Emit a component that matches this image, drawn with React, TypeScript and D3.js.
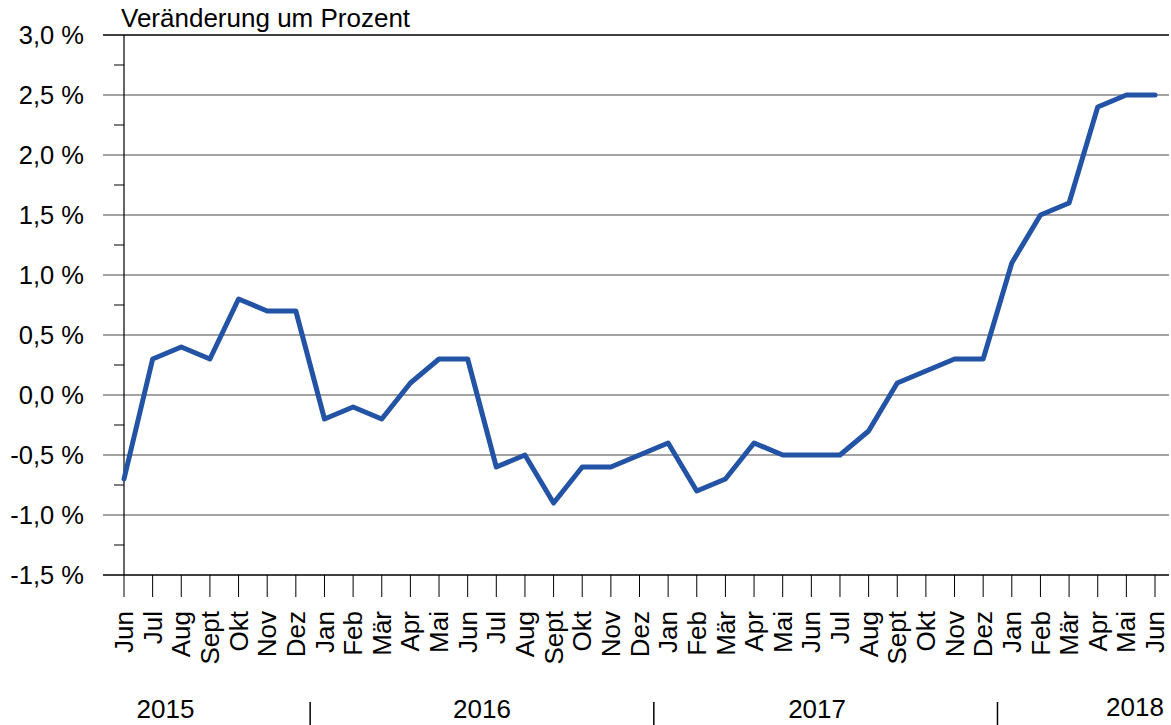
import * as d3 from 'd3';

const months = [
  'Jun', 'Jul', 'Aug', 'Sept', 'Okt', 'Nov', 'Dez',
  'Jan', 'Feb', 'Mär', 'Apr', 'Mai', 'Jun', 'Jul', 'Aug', 'Sept', 'Okt', 'Nov', 'Dez',
  'Jan', 'Feb', 'Mär', 'Apr', 'Mai', 'Jun', 'Jul', 'Aug', 'Sept', 'Okt', 'Nov', 'Dez',
  'Jan', 'Feb', 'Mär', 'Apr', 'Mai', 'Jun',
];

const values = [
  -0.7, 0.3, 0.4, 0.3, 0.8, 0.7, 0.7,
  -0.2, -0.1, -0.2, 0.1, 0.3, 0.3, -0.6, -0.5, -0.9, -0.6, -0.6, -0.5,
  -0.4, -0.8, -0.7, -0.4, -0.5, -0.5, -0.5, -0.3, 0.1, 0.2, 0.3, 0.3,
  1.1, 1.5, 1.6, 2.4, 2.5, 2.5,
];

const yMajor = [-1.5, -1.0, -0.5, 0, 0.5, 1.0, 1.5, 2.0, 2.5, 3.0];
const yMinor = [-1.25, -0.75, -0.25, 0.25, 0.75, 1.25, 1.75, 2.25, 2.75];

// year label, placed at a fractional month index
const years = ['2015', '2016', '2017', '2018'];
const yearAt = [1.45, 12.5, 24.2, 35.3];
// separators sit between Dez and Jan
const yearBreaks = [6.5, 18.5, 30.5];

const W = 1171;
const H = 725;
const left = 124;
const right = 1155;
const top = 35;
const bottom = 575;
const font = 'Liberation Sans, Arial, sans-serif';

export default function App() {
  const x = d3.scaleLinear().domain([0, months.length - 1]).range([left, right]);
  const y = d3.scaleLinear().domain([-1.5, 3.0]).range([bottom, top]);

  const line = d3.line<number>()
    .x((_, i) => x(i))
    .y(d => y(d));

  const fmt = (v: number) => d3.format('.1f')(v).replace('.', ',').replace('−', '-') + ' %';

  return (
    <svg width={W} height={H} style={{ position: 'absolute', left: 0, top: 0, background: '#fff' }}
      fontFamily={font}>
      {/* gridlines */}
      {yMajor.map(v => (
        <line key={'g' + v} x1={103} x2={1169} y1={y(v)} y2={y(v)}
          stroke={v === 3.0 || v === -1.5 ? '#000' : '#858585'} strokeWidth={1.5} />
      ))}
      {/* minor ticks */}
      {yMinor.map(v => (
        <line key={'m' + v} x1={114} x2={left} y1={y(v)} y2={y(v)} stroke="#000" strokeWidth={1} />
      ))}
      {/* y axis */}
      <line x1={left} x2={left} y1={top} y2={bottom} stroke="#000" strokeWidth={1.2} />
      {yMajor.map(v => (
        <text key={'l' + v} x={84} y={y(v)} dy="0.35em" textAnchor="end" fontSize={25.5} fill="#000">
          {fmt(v)}
        </text>
      ))}
      <text x={121} y={27} fontSize={26} fill="#000">Veränderung um Prozent</text>

      {/* x ticks & labels */}
      {months.map((m, i) => (
        <g key={'x' + i}>
          <line x1={x(i)} x2={x(i)} y1={bottom} y2={bottom + 22} stroke="#000" strokeWidth={1} />
          <text transform={`translate(${x(i)},${bottom + 36}) rotate(-90)`} dy="0.35em"
            textAnchor="end" fontSize={26} fill="#000">{m}</text>
        </g>
      ))}

      {/* years */}
      {years.map((yr, i) => (
        <text key={yr} x={x(yearAt[i])} y={i === 3 ? 716 : 718} textAnchor="middle" fontSize={26} fill="#000">
          {yr}
        </text>
      ))}
      {yearBreaks.map(b => (
        <line key={'b' + b} x1={x(b)} x2={x(b)} y1={702} y2={725} stroke="#000" strokeWidth={1.5} />
      ))}

      {/* series */}
      <path d={line(values) ?? ''} fill="none" stroke="#2353a5" strokeWidth={5}
        strokeLinejoin="round" strokeLinecap="round" />
    </svg>
  );
}
